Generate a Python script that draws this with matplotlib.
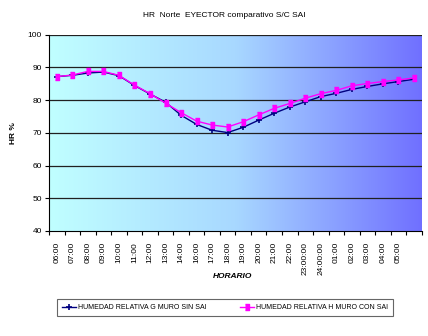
import matplotlib.pyplot as plt
import numpy as np
from matplotlib.colors import LinearSegmentedColormap

horas = ['06:00', '07:00', '08:00', '09:00', '10:00', '11:00', '12:00', '13:00',
         '14:00', '16:00', '17:00', '18:00', '19:00', '20:00', '21:00', '22:00',
         '23:00:00', '24:00:00', '01:00', '02:00', '03:00', '04:00', '05:00', '']
hr_g_sin_sai = [87.2, 87.6, 88.3, 88.6, 87.5, 84.5, 81.9, 79.4, 75.4, 72.6, 70.8, 70.1,
                71.7, 73.9, 76.0, 77.9, 79.5, 81.1, 82.1, 83.3, 84.2, 85.0, 85.7, 86.4]
hr_h_con_sai = [87.2, 87.7, 88.8, 88.8, 87.6, 84.6, 82.0, 79.1, 76.2, 73.6, 72.4, 71.8,
                73.4, 75.5, 77.5, 79.0, 80.6, 82.0, 83.0, 84.4, 85.1, 85.7, 86.2, 86.8]

plt.rcParams['font.family'] = ['Liberation Sans', 'DejaVu Sans']

fig = plt.figure(figsize=(4.28, 3.36), dpi=100)
ax = fig.add_axes([0.1145, 0.3125, 0.871, 0.584])

# fondo degradado
cmap = LinearSegmentedColormap.from_list('fondo', ['#C0FFFF', '#A8D8FF', '#7070FF'])
grad = np.linspace(0, 1, 256).reshape(1, -1)
ax.imshow(grad, cmap=cmap, aspect='auto', extent=[0, 1, 0, 1],
          transform=ax.transAxes, zorder=0)

rect = [(-0.55, -1), (0.55, -1), (0.55, 1), (-0.55, 1)]
x = np.arange(len(horas))
ax.plot(x, hr_g_sin_sai, color='#000080', lw=1, marker='+', ms=4, mew=1.2,
        label='HUMEDAD RELATIVA G MURO SIN SAI', zorder=3)
ax.plot(x, hr_h_con_sai, color='#FF00FF', lw=1, marker=rect, ms=4.5,
        label='HUMEDAD RELATIVA H MURO CON SAI', zorder=4)

ax.set_xlim(-0.5, len(horas) - 0.5)
ax.set_ylim(40, 100)
ax.set_yticks(range(40, 101, 10))
ax.set_xticks(x)
ax.set_xticklabels(horas, rotation=90, fontsize=6)
ax.tick_params(axis='x', length=0, pad=8)
ax.set_xticks(np.arange(-0.5, len(horas), 1), minor=True)
ax.tick_params(axis='x', which='minor', length=3, width=0.8, direction='out')
ax.tick_params(axis='y', labelsize=6, length=3, width=0.8, pad=2)
for yv in range(50, 101, 10):
    ax.axhline(yv, color='#202020', lw=0.9, zorder=1)

ax.spines['top'].set_visible(False)
ax.spines['right'].set_visible(False)
ax.spines['left'].set_linewidth(0.8)
ax.spines['bottom'].set_linewidth(0.8)

ax.set_ylabel('HR %', fontsize=6, fontweight='bold', labelpad=8)
fig.text(233 / 428, 1 - 277 / 336, 'HORARIO', ha='center', va='center',
         fontsize=6, fontweight='bold', style='italic')
fig.text(0.525, 0.948, 'HR  Norte  EYECTOR comparativo S/C SAI', ha='center', fontsize=6)

leg = fig.legend(loc='center', bbox_to_anchor=(57 / 428, 0.055, 336 / 428, 0.06),
                 mode='expand', ncol=2, fontsize=5,
                 frameon=True, fancybox=False, edgecolor='#404040',
                 handlelength=2.0, handletextpad=0.3, borderpad=0.7, borderaxespad=0)
leg.get_frame().set_linewidth(0.8)

fig.savefig('out.png', dpi=100)
